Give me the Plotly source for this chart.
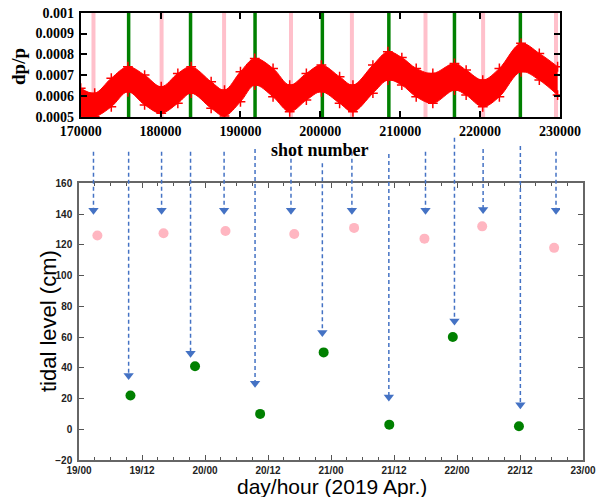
import plotly.graph_objects as go

W, H = 603, 497

# ---------------- data ----------------
# top panel: dp/p band (upper / lower envelope)
shot = [170000, 171750, 173830, 175910, 178000, 180080, 182160, 183830, 186330, 188000,
        190000, 191790, 194080, 196160, 198250, 200130, 202410, 204080, 206580, 208450,
        210200, 212000, 214080, 216790, 218250, 220330, 222410, 225120, 227410, 229700]
dp_upper = [0.000638, 0.000614, 0.000686, 0.000741, 0.000701, 0.000645, 0.000709, 0.000741, 0.000669, 0.000629,
            0.000717, 0.000781, 0.000733, 0.000653, 0.000709, 0.000749, 0.000693, 0.000653, 0.000749, 0.000813,
            0.000785, 0.000733, 0.000709, 0.000757, 0.000725, 0.000677, 0.000733, 0.000853, 0.000805, 0.000741]
dp_lower = [0.000505, 0.000501, 0.000549, 0.000621, 0.000558, 0.000518, 0.000566, 0.000614, 0.000542, 0.000505,
            0.000573, 0.000653, 0.000597, 0.000525, 0.000581, 0.000621, 0.000566, 0.000525, 0.000614, 0.000677,
            0.000653, 0.000597, 0.000566, 0.000629, 0.000605, 0.000549, 0.000597, 0.000717, 0.000677, 0.000605]

# shot numbers of high tide (pink) and low tide (green)
high_shots = [171600, 180125, 187950, 196325, 203950, 213163, 220375, 229500]
low_shots = [176000, 183750, 191825, 200250, 208575, 216788, 225038]

top_xticks = [170000, 180000, 190000, 200000, 210000, 220000, 230000]
top_yticks = [0.0005, 0.0006, 0.0007, 0.0008, 0.0009, 0.001]
top_yticktext = ["0.0005", "0.0006", "0.0007", "0.0008", "0.0009", "0.001"]

# bottom panel: tidal level (hours from 19/00)
high_hours = [3.5, 16.1, 27.9, 41.0, 52.4, 65.8, 76.8, 90.5]
high_level = [126, 127.5, 129, 127, 131, 124, 132, 118]
low_hours = [9.8, 22.1, 34.5, 46.6, 59.1, 71.2, 83.8]
low_level = [22, 41, 10, 50, 3, 60, 2]

# arrow heads / starts (in tidal-level units)
high_head = [142.5, 142.5, 142.5, 142.5, 142.5, 142.5, 143, 142.5]
high_start = [180.6, 180.6, 180.6, 180.6, 180.6, 180.6, 182.3, 180.6]
low_head = [35, 49.5, 30, 63, 21, 70.5, 16]
low_start = [180.6, 180.6, 182.3, 173, 179, 189.7, 184.3]

bot_xticks = [0, 12, 24, 36, 48, 60, 72, 84, 96]
bot_xticktext = ["19/00", "19/12", "20/00", "20/12", "21/00", "21/12", "22/00", "22/12", "23/00"]

# ---------------- layout geometry ----------------
top_xdom = [80.7 / W, 560 / W]
top_ydom = [1 - 117 / H, 1 - 12.7 / H]
bot_xdom = [79 / W, 583 / W]
bot_ydom = [1 - 460 / H, 1 - 183.3 / H]
arr_ytop = 1 - 132 / H
y2_range = [-20, 160]
y3_top = y2_range[1] + (arr_ytop - bot_ydom[1]) / (bot_ydom[1] - bot_ydom[0]) * (y2_range[1] - y2_range[0])

serif = dict(family="Liberation Serif", size=14, color="black", weight="bold")
sans = dict(family="Liberation Sans", size=10, color="#222", weight="bold")

fig = go.Figure()

# red band
fig.add_trace(go.Scatter(x=shot, y=dp_upper, mode="lines", line=dict(color="red", width=1, shape="spline"),
                         xaxis="x", yaxis="y", showlegend=False, hoverinfo="skip"))
fig.add_trace(go.Scatter(x=shot, y=dp_lower, mode="lines", line=dict(color="red", width=1, shape="spline"),
                         fill="tonexty", fillcolor="red",
                         xaxis="x", yaxis="y", showlegend=False, hoverinfo="skip"))
fig.add_trace(go.Scatter(x=shot + shot, y=dp_upper + dp_lower, mode="markers",
                         marker=dict(symbol="cross-thin", size=7, line=dict(color="red", width=1.5)),
                         xaxis="x", yaxis="y", showlegend=False, hoverinfo="skip", cliponaxis=True))

# vertical tide lines in top panel
for s in high_shots:
    fig.add_shape(type="line", xref="x", yref="y domain", x0=s, x1=s, y0=0, y1=1,
                  line=dict(color="#FFC0CB", width=4), layer="below")
for s in low_shots:
    fig.add_shape(type="line", xref="x", yref="y domain", x0=s, x1=s, y0=0, y1=1,
                  line=dict(color="#008000", width=3.5), layer="below")

# bottom panel dots
fig.add_trace(go.Scatter(x=high_hours, y=high_level, mode="markers",
                         marker=dict(color="#FFB6C1", size=10), xaxis="x2", yaxis="y2",
                         showlegend=False))
fig.add_trace(go.Scatter(x=low_hours, y=low_level, mode="markers",
                         marker=dict(color="#008000", size=10), xaxis="x2", yaxis="y2",
                         showlegend=False))

# arrows (overlay subplot x3/y3 sharing top shot scale, extending bottom tidal scale)
ax_x, ax_y = [], []
for s, a, b in zip(high_shots + low_shots, high_start + low_start, high_head + low_head):
    ax_x += [s, s, None]
    ax_y += [a, b, None]
fig.add_trace(go.Scatter(x=ax_x, y=ax_y, mode="lines",
                         line=dict(color="#4472C4", width=1.5, dash="4px,3px"),
                         xaxis="x3", yaxis="y3", showlegend=False, hoverinfo="skip"))
fig.add_trace(go.Scatter(x=high_shots + low_shots, y=high_head + low_head, mode="markers",
                         marker=dict(symbol="triangle-down", size=9, color="#4472C4"),
                         xaxis="x3", yaxis="y3", showlegend=False, hoverinfo="skip"))

fig.update_layout(
    width=W, height=H, autosize=False,
    margin=dict(l=0, r=0, t=0, b=0, autoexpand=False),
    paper_bgcolor="white", plot_bgcolor="rgba(0,0,0,0)",
    xaxis=dict(domain=top_xdom, range=[170000, 230000], anchor="y", automargin=False,
               tickvals=top_xticks, ticktext=[str(v) for v in top_xticks],
               ticks="inside", ticklen=6, tickwidth=2, tickcolor="black", mirror="ticks",
               showline=True, linecolor="black", linewidth=2, showgrid=False, zeroline=False,
               tickfont=serif),
    yaxis=dict(domain=top_ydom, range=[0.0005, 0.001], anchor="x", automargin=False,
               tickvals=top_yticks, ticktext=top_yticktext,
               ticks="inside", ticklen=6, tickwidth=2, tickcolor="black", mirror="ticks",
               showline=True, linecolor="black", linewidth=2, showgrid=False, zeroline=False,
               tickfont=serif, ticklabelstandoff=2),
    xaxis2=dict(domain=bot_xdom, range=[0, 96], anchor="y2", automargin=False,
                tickvals=bot_xticks, ticktext=bot_xticktext,
                ticks="inside", ticklen=5, tickcolor="#555", mirror="ticks",
                minor=dict(dtick=3, tick0=0, ticks="inside", ticklen=3, tickcolor="#555", showgrid=False),
                showline=True, linecolor="#666", linewidth=1.5, showgrid=False, zeroline=False,
                tickfont=sans, ticklabelstandoff=0),
    yaxis2=dict(domain=bot_ydom, range=y2_range, anchor="x2", dtick=20, tick0=0, automargin=False,
                ticks="inside", ticklen=5, tickcolor="#555", mirror="ticks",
                showline=True, linecolor="#666", linewidth=1.5, showgrid=False, zeroline=False,
                tickfont=sans, ticklabelstandoff=3),
    xaxis3=dict(domain=top_xdom, range=[170000, 230000], anchor="y3", visible=False, automargin=False),
    yaxis3=dict(domain=[bot_ydom[0], arr_ytop], range=[y2_range[0], y3_top], anchor="x3",
                visible=False, automargin=False),
    annotations=[
        dict(text="dp/p", x=18 / W, y=1 - 67 / H, xref="paper", yref="paper", showarrow=False,
             textangle=-90, xanchor="center", yanchor="middle",
             font=dict(family="Liberation Serif", size=19, color="black", weight="bold")),
        dict(text="shot number", x=320 / W, y=1 - 150 / H, xref="paper", yref="paper", showarrow=False,
             xanchor="center", yanchor="middle",
             font=dict(family="Liberation Serif", size=18, color="black", weight="bold")),
        dict(text="tidal level (cm)", x=48 / W, y=1 - 321 / H, xref="paper", yref="paper", showarrow=False,
             textangle=-90, xanchor="center", yanchor="middle",
             font=dict(family="Liberation Sans", size=22, color="black")),
        dict(text="day/hour (2019 Apr.)", x=332 / W, y=1 - 486.5 / H, xref="paper", yref="paper",
             showarrow=False, xanchor="center", yanchor="middle",
             font=dict(family="Liberation Sans", size=21, color="black")),
    ],
)

fig.write_html("out.html")
